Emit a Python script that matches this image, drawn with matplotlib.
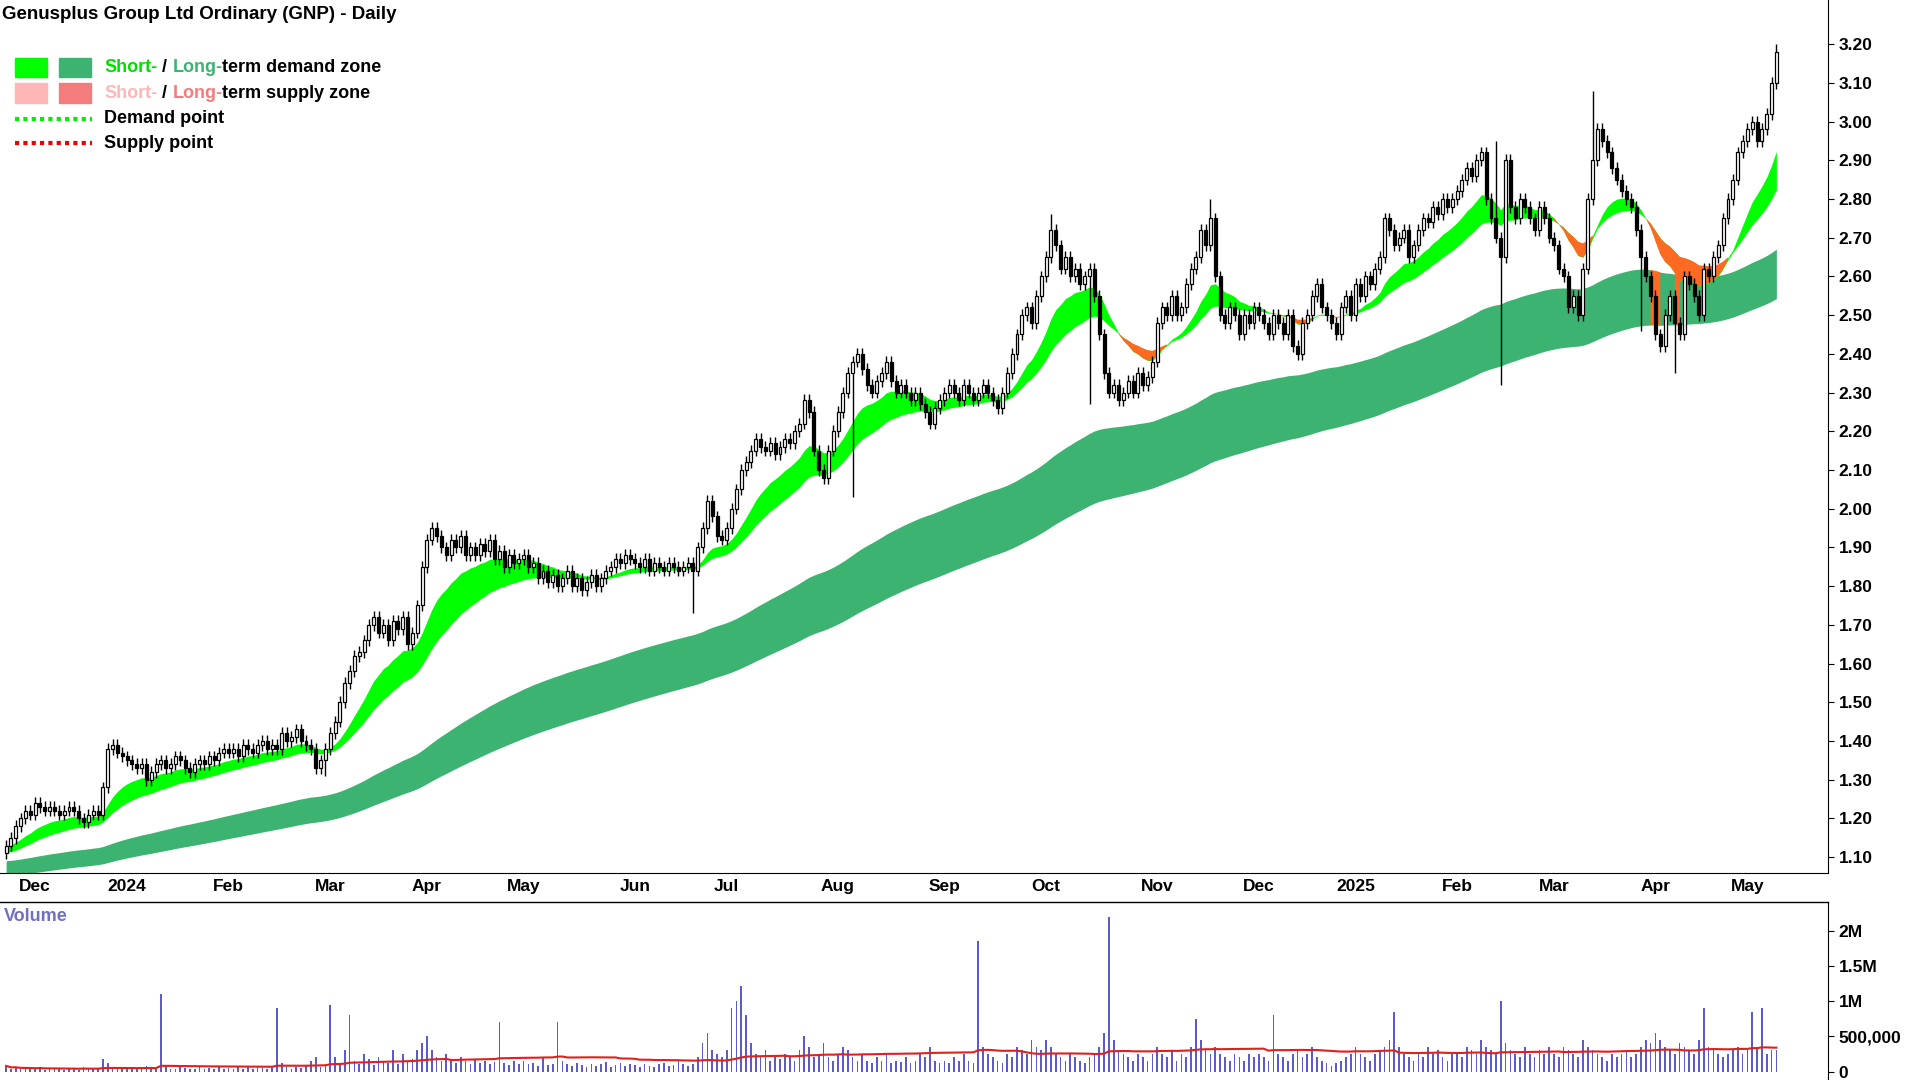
import numpy as np
import pandas as pd
import matplotlib
matplotlib.use("Agg")
import matplotlib.pyplot as plt
from matplotlib.patches import Rectangle
from matplotlib.ticker import FuncFormatter

plt.rcParams['font.family'] = ['Liberation Sans', 'DejaVu Sans']

# ---------------- data (daily closes per month) ----------------
c_nov23 = [1.13,1.15,1.18,1.20,1.22,1.21]
c_dec23 = [1.24,1.23,1.22,1.23,1.22,1.21,1.22,1.23,1.22,1.20,1.19,1.21,1.22,1.21,1.28,1.38,1.39,1.37,1.36]
c_jan24 = [1.35,1.34,1.33,1.34,1.30,1.32,1.34,1.35,1.33,1.34,1.36,1.35,1.33,1.32,1.34,1.35,1.34,1.36,1.35,1.37,1.38]
c_feb24 = [1.37,1.38,1.36,1.39,1.38,1.37,1.39,1.40,1.38,1.39,1.38,1.42,1.40,1.41,1.43,1.40,1.39,1.38,1.33,1.35,1.38]
c_mar24 = [1.42,1.45,1.50,1.55,1.58,1.62,1.63,1.66,1.70,1.72,1.68,1.70,1.66,1.71,1.69,1.72,1.65,1.68,1.75,1.85]
c_apr24 = [1.92,1.95,1.93,1.90,1.88,1.92,1.90,1.93,1.88,1.90,1.88,1.91,1.89,1.92,1.87,1.89,1.85,1.88,1.86,1.87]
c_may24 = [1.88,1.85,1.86,1.82,1.84,1.81,1.83,1.80,1.82,1.84,1.80,1.82,1.79,1.81,1.83,1.80,1.82,1.84,1.85,1.87,1.86,1.88,1.87]
c_jun24 = [1.86,1.85,1.87,1.84,1.86,1.85,1.84,1.86,1.85,1.84,1.85,1.86,1.84,1.90,1.95,2.02,1.98,1.93,1.92]
c_jul24 = [1.95,2.00,2.05,2.10,2.12,2.15,2.18,2.16,2.15,2.17,2.14,2.16,2.18,2.17,2.20,2.22,2.28,2.25,2.15,2.10,2.08,2.15,2.20]
c_aug24 = [2.25,2.30,2.35,2.38,2.40,2.36,2.32,2.30,2.33,2.35,2.38,2.33,2.30,2.32,2.30,2.28,2.30,2.27,2.25,2.22,2.26,2.28]
c_sep24 = [2.30,2.32,2.30,2.28,2.32,2.30,2.28,2.30,2.32,2.30,2.28,2.26,2.30,2.35,2.40,2.45,2.50,2.52,2.48,2.55,2.60]
c_oct24 = [2.65,2.72,2.68,2.62,2.65,2.60,2.62,2.58,2.60,2.62,2.55,2.45,2.35,2.30,2.32,2.28,2.30,2.33,2.30,2.35,2.32,2.34,2.38]
c_nov24 = [2.48,2.52,2.50,2.55,2.50,2.52,2.58,2.62,2.65,2.72,2.68,2.75,2.60,2.50,2.48,2.52,2.50,2.45,2.50,2.48,2.52]
c_dec24 = [2.50,2.48,2.45,2.50,2.48,2.45,2.50,2.42,2.40,2.48,2.50,2.55,2.58,2.52,2.50,2.48,2.45,2.52,2.55,2.50]
c_jan25 = [2.58,2.55,2.60,2.58,2.62,2.65,2.75,2.72,2.68,2.70,2.72,2.65,2.68,2.72,2.75,2.74,2.78,2.76,2.80,2.78,2.80]
c_feb25 = [2.82,2.85,2.88,2.86,2.90,2.92,2.80,2.75,2.70,2.65,2.90,2.78,2.75,2.80,2.78,2.75,2.72,2.78,2.75,2.70]
c_mar25 = [2.68,2.62,2.60,2.52,2.55,2.50,2.62,2.80,2.90,2.98,2.95,2.92,2.88,2.85,2.82,2.80,2.78,2.72,2.65,2.60,2.55]
c_apr25 = [2.45,2.42,2.50,2.55,2.48,2.45,2.60,2.58,2.55,2.50,2.62,2.60,2.65,2.68,2.75,2.80,2.85,2.92,2.95]
c_may25 = [2.98,3.00,2.95,2.98,3.02,3.10,3.18]

# volume in thousands per month
v_nov23 = [80,40,60,30,50,40]
v_dec23 = [30,60,20,40,30,50,20,30,40,20,60,30,50,40,180,120,60,40,30]
v_jan24 = [50,30,40,60,80,30,40,1100,90,40,30,60,50,40,30,70,40,50,30,60,40]
v_feb24 = [50,40,70,30,60,40,80,50,30,60,900,120,60,40,70,50,80,150,200,60,90]
v_mar24 = [950,200,120,300,800,150,100,250,180,90,200,150,120,300,100,250,150,180,300,400]
v_apr24 = [500,300,200,150,250,180,120,200,150,100,180,120,150,100,130,700,120,90,150,100]
v_may24 = [150,100,120,80,200,90,110,700,150,100,80,120,90,60,110,80,100,130,70,90,120,80,100]
v_jun24 = [90,70,110,80,60,100,120,80,90,150,110,80,100,200,400,550,300,250,200]
v_jul24 = [300,900,1000,1220,800,400,250,200,300,150,200,180,250,200,150,300,500,350,200,250,400,200,150]
v_aug24 = [250,350,300,200,150,250,150,120,200,150,250,120,150,130,200,120,150,250,200,350,150,120]
v_sep24 = [150,120,200,150,250,150,120,1850,350,250,200,150,120,250,200,350,300,250,450,350,300]
v_oct24 = [450,350,250,200,150,250,200,150,120,200,250,350,550,2200,450,300,250,200,150,250,200,150,250]
v_nov24 = [350,250,200,300,150,250,200,350,750,450,300,250,350,250,200,150,250,200,150,250,200]
v_dec24 = [250,200,150,800,250,200,150,250,300,200,250,350,200,150,120,80,120,150,200,250]
v_jan25 = [350,250,200,150,250,300,350,450,850,350,250,200,150,250,200,350,250,300,200,150,250]
v_feb25 = [250,200,350,300,250,450,350,300,250,1000,400,300,250,200,350,250,200,300,250,350]
v_mar25 = [250,200,350,300,250,200,450,350,300,250,200,150,250,200,250,300,200,250,350,450,400]
v_apr25 = [550,450,350,300,250,400,350,300,250,450,900,350,300,250,200,250,300,350,250]
v_may25 = [300,850,350,900,250,300,300]

closes = (c_nov23+c_dec23+c_jan24+c_feb24+c_mar24+c_apr24+c_may24+c_jun24+c_jul24+c_aug24+
          c_sep24+c_oct24+c_nov24+c_dec24+c_jan25+c_feb25+c_mar25+c_apr25+c_may25)
volumes = (v_nov23+v_dec23+v_jan24+v_feb24+v_mar24+v_apr24+v_may24+v_jun24+v_jul24+v_aug24+
           v_sep24+v_oct24+v_nov24+v_dec24+v_jan25+v_feb25+v_mar25+v_apr25+v_may25)
n = min(len(closes), len(volumes))
closes = closes[:n]; volumes = volumes[:n]

holidays = ['2023-12-25','2023-12-26','2024-01-01','2024-01-26','2024-03-29','2024-04-01',
            '2024-04-25','2024-06-10','2024-12-25','2024-12-26','2025-01-01','2025-01-27',
            '2025-04-18','2025-04-21','2025-04-25']
dates = pd.bdate_range('2023-11-23', '2025-06-30', freq='C', holidays=holidays)[:n]

wick_lows = {'2024-02-29': 1.31, '2024-06-20': 1.73, '2024-08-06': 2.03, '2024-10-14': 2.27,
             '2025-02-14': 2.32, '2025-03-27': 2.46, '2025-04-07': 2.35}
wick_highs = {'2024-10-02': 2.76, '2024-11-18': 2.80, '2025-02-13': 2.95, '2025-03-13': 3.08,
              '2025-05-09': 3.20}

short_seed = (1.13, 1.11)
long_seed = (1.09, 1.05)

c = pd.Series(closes, index=dates)
o = c.shift(1).fillna(c.iloc[0] - 0.02)
hi = np.maximum(o, c) + 0.015
lo = np.minimum(o, c) - 0.015
for d, v in wick_lows.items():
    if pd.Timestamp(d) in lo.index: lo[pd.Timestamp(d)] = v
for d, v in wick_highs.items():
    if pd.Timestamp(d) in hi.index: hi[pd.Timestamp(d)] = v

def ema(s, span, seed):
    a = 2 / (span + 1)
    out = []
    prev = seed
    for val in s:
        prev = prev + a * (val - prev)
        out.append(prev)
    return np.array(out)

s1 = ema(c.values, 15, short_seed[0]); s2 = ema(c.values, 30, short_seed[1])
l1 = ema(c.values, 115, long_seed[0]); l2 = ema(c.values, 185, long_seed[1])
vol_ma = pd.Series(volumes).rolling(60, min_periods=1).mean().values

x = np.arange(n)

W, H = 1568, 882
fig = plt.figure(figsize=(19.2, 10.8), dpi=100)
right = 1493 / W
axp = fig.add_axes([0, 1 - 713 / H, right, 713 / H])
axv = fig.add_axes([0, 0, right, 1 - 737 / H])

axp.fill_between(x, np.minimum(l1, l2), np.maximum(l1, l2), color='#3cb371', lw=0, zorder=1)
mask_l = c.values < np.minimum(l1, l2)
mask_l = mask_l | np.r_[mask_l[1:], False]
axp.fill_between(x, np.minimum(l1, l2), np.maximum(l1, l2), where=mask_l, color='#ff6a22', lw=0, zorder=1.5)
axp.fill_between(x, np.minimum(s1, s2), np.maximum(s1, s2), color='#00ff00', lw=0, zorder=1)
mask_s = s1 < s2
mask_s = mask_s | np.r_[mask_s[1:], False]
axp.fill_between(x, np.minimum(s1, s2), np.maximum(s1, s2), where=mask_s, color='#ff6a22', lw=0, zorder=1.5)

up = c.values >= o.values
axp.vlines(x, lo.values, hi.values, color='black', lw=1.0, zorder=2)
bottoms = np.minimum(o.values, c.values)
heights = np.maximum(np.abs(c.values - o.values), 0.004)
axp.bar(x[up], heights[up], bottom=bottoms[up], width=0.62, color='white', edgecolor='black', lw=0.9, zorder=3)
axp.bar(x[~up], heights[~up], bottom=bottoms[~up], width=0.62, color='black', edgecolor='black', lw=0.9, zorder=3)

px_per_bar = 3.95
x0 = -5 / px_per_bar
x1 = x0 + 1493 / px_per_bar
axp.set_xlim(x0, x1)
axp.set_ylim(1.10 - 13 / 316.2, 3.20 + 36 / 316.2)
axp.yaxis.tick_right()
axp.set_yticks(np.round(np.arange(1.10, 3.21, 0.10), 2))
axp.yaxis.set_major_formatter(FuncFormatter(lambda v, p: f'{v:.2f}'))

mp, ml = [], []
prev = None
for i, d in enumerate(dates):
    if prev is not None and d.month != prev:
        mp.append(i)
        ml.append(str(d.year) if d.month == 1 else d.strftime('%b'))
    prev = d.month
axp.set_xticks(mp)
axp.set_xticklabels(ml)

for ax in (axp, axv):
    for s in ['top', 'left']:
        ax.spines[s].set_visible(False)
    ax.spines['right'].set_color('black')
    ax.spines['bottom'].set_color('black')
    ax.tick_params(axis='both', labelsize=12.5, length=4, colors='black')
    for t in ax.get_xticklabels() + ax.get_yticklabels():
        t.set_fontweight('bold')
axp.tick_params(axis='x', length=0, pad=4)

axv.bar(x, np.array(volumes) * 1000, width=0.35, color='#5c5cc8', zorder=2)
axv.plot(x, vol_ma * 1000, color='#e0201a', lw=1.5, zorder=3)
axv.set_xlim(x0, x1)
axv.set_ylim(-0.12e6, (875 - 737) / 57.5 * 1e6)
axv.yaxis.tick_right()
axv.set_yticks([0, 500000, 1000000, 1500000, 2000000])
axv.set_yticklabels(['0', '500,000', '1M', '1.5M', '2M'])
axv.set_xticks([])
axv.spines['bottom'].set_visible(False)
for t in axv.get_yticklabels():
    t.set_fontweight('bold')
axv.tick_params(axis='y', labelsize=12.5)
axv.text(0.002, 0.97, 'Volume', transform=axv.transAxes, color='#7070c0', fontsize=13,
         fontweight='bold', va='top', ha='left')
fig.add_artist(plt.Line2D([0, right], [1 - 737 / H, 1 - 737 / H], color='black', lw=1.0))

fig.text(2 / W, 1 - 12 / H, 'Genusplus Group Ltd Ordinary (GNP) - Daily', fontsize=13.5,
         fontweight='bold', va='center', ha='left')

def fy(yp): return 1 - yp / H
def fx(xp): return xp / W
rows = [55, 76, 97, 117]
for (xa, col) in [(12, '#00ff00'), (48, '#3cb371')]:
    fig.add_artist(Rectangle((fx(xa), fy(rows[0] + 8)), fx(26), 16 / H, color=col, transform=fig.transFigure))
for (xa, col) in [(12, '#ffb6b6'), (48, '#f47c7c')]:
    fig.add_artist(Rectangle((fx(xa), fy(rows[1] + 8)), fx(26), 16 / H, color=col, transform=fig.transFigure))
fig.add_artist(plt.Line2D([fx(12), fx(75)], [fy(rows[2])] * 2, color='#00ee00', lw=3, ls=(0, (1, 1))))
fig.add_artist(plt.Line2D([fx(12), fx(75)], [fy(rows[3])] * 2, color='#ee0000', lw=3, ls=(0, (1, 1))))
fs = 13
r = fig.canvas.get_renderer()
def seg(xp, yp, parts):
    for txt, col in parts:
        t = fig.text(fx(xp), fy(yp), txt, color=col, fontsize=fs, fontweight='bold', va='center', ha='left')
        bb = t.get_window_extent(renderer=r)
        xp += bb.width * (W / 1920)
seg(85, rows[0], [('Short-', '#00e000'), (' / ', 'black'), ('Long-', '#3cb371'), ('term demand zone', 'black')])
seg(85, rows[1], [('Short-', '#ffb6b6'), (' / ', 'black'), ('Long-', '#f47c7c'), ('term supply zone', 'black')])
seg(85, rows[2], [('Demand point', 'black')])
seg(85, rows[3], [('Supply point', 'black')])

fig.savefig('out.png', dpi=100, facecolor='white')
